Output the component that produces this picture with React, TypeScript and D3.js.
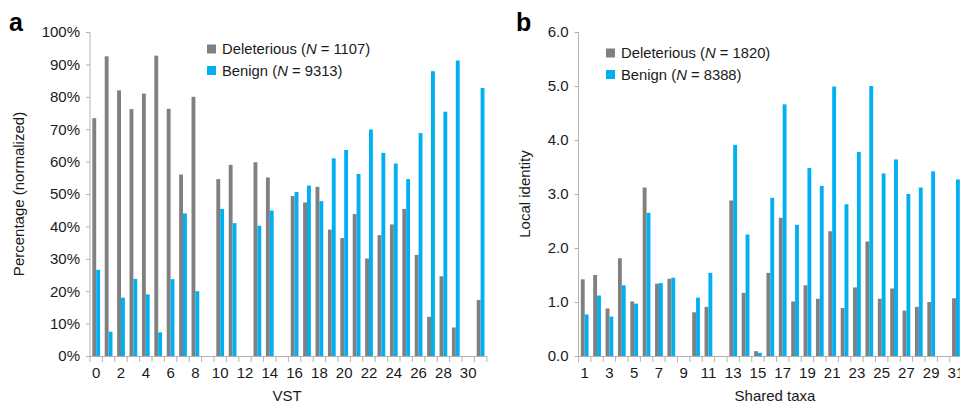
import React, { useEffect, useRef } from 'react';
import * as d3 from 'd3';

// panel a: VST
const vstCategories = ['0', '1', '2', '3', '4', '5', '6', '7', '8', '9', '10', '11', '12', '13', '14', '15',
  '16', '17', '18', '19', '20', '21', '22', '23', '24', '25', '26', '27', '28', '29', '30', '31'];
const vstDeleterious = [73.4, 92.5, 82, 76.2, 81, 92.7, 76.3, 56, 80, null, 54.6, 59, null, 59.8, 55.1, null,
  49.4, 47.4, 52.2, 39, 36.4, 43.8, 30.1, 37.3, 40.6, 45.4, 31.2, 12.1, 24.6, 8.8, null, 17.3];
const vstBenign = [26.6, 7.5, 18, 23.8, 19, 7.3, 23.7, 44, 20, null, 45.4, 41, null, 40.2, 44.9, null,
  50.6, 52.6, 47.8, 61, 63.6, 56.2, 69.9, 62.7, 59.4, 54.6, 68.8, 87.9, 75.4, 91.2, null, 82.7];
const vstTicks = ['0', '2', '4', '6', '8', '10', '12', '14', '16', '18', '20', '22', '24', '26', '28', '30'];
const pctTicks = [0, 10, 20, 30, 40, 50, 60, 70, 80, 90, 100];

// panel b: shared taxa
const taxaCategories = ['1', '2', '3', '4', '5', '6', '7', '8', '9', '10', '11', '12', '13', '14', '15', '16',
  '17', '18', '19', '20', '21', '22', '23', '24', '25', '26', '27', '28', '29', '30', '31'];
const taxaDeleterious = [1.42, 1.5, 0.88, 1.81, 1.01, 3.12, 1.34, 1.43, null, 0.81, 0.91, null, 2.88, 1.17, 0.09, 1.54,
  2.56, 1.01, 1.31, 1.06, 2.31, 0.89, 1.27, 2.12, 1.06, 1.25, 0.84, 0.91, 1.0, null, 1.07];
const taxaBenign = [0.77, 1.12, 0.73, 1.31, 0.97, 2.65, 1.35, 1.45, null, 1.08, 1.54, null, 3.91, 2.25, 0.06, 2.93,
  4.66, 2.43, 3.48, 3.15, 4.99, 2.81, 3.78, 5.0, 3.38, 3.64, 3.0, 3.12, 3.42, null, 3.27];
const taxaTicks = ['1', '3', '5', '7', '9', '11', '13', '15', '17', '19', '21', '23', '25', '27', '29', '31'];
const identityTicks = [0, 1, 2, 3, 4, 5, 6];

const GREY = '#808080';
const BLUE = '#00b0f0';
const AXIS = '#b3b3b3';
const TEXT = '#1a1a1a';
const FONT = '"Liberation Sans", Arial, sans-serif';

function drawPanel(svg, opts) {
  const { left, top, bottom, step, categories, del, ben, xTicks, yMax, yTicks, yFormat,
    letter, letterX, yTitle, yTitleX, xTitle, xTitleX, legendX, legendY, nDel, nBen } = opts;

  const right = left + step * categories.length;
  const x = d3.scaleBand().domain(categories).range([left, right]).padding(0);
  const inner = d3.scaleBand().domain(['del', 'ben']).range([0, x.bandwidth()]).paddingInner(0).paddingOuter(0.6);
  const y = d3.scaleLinear().domain([0, yMax]).range([bottom, top]);

  const g = svg.append('g');

  // bars
  const rows = categories.map((c, i) => ({ c, del: del[i], ben: ben[i] }));
  [['del', GREY], ['ben', BLUE]].forEach(([key, color]) => {
    g.append('g')
      .selectAll('rect')
      .data(rows.filter((r) => r[key] != null))
      .join('rect')
      .attr('x', (r) => x(r.c) + inner(key))
      .attr('width', inner.bandwidth())
      .attr('y', (r) => y(r[key]))
      .attr('height', (r) => bottom - y(r[key]))
      .attr('fill', color);
  });

  // y axis
  const yAxis = d3.axisLeft(y).tickValues(yTicks).tickSize(4).tickPadding(6).tickFormat(yFormat);
  const ya = g.append('g').attr('transform', `translate(${left},0)`).call(yAxis);
  ya.select('.domain').attr('stroke', AXIS).attr('d', `M0,${top}V${bottom}`);
  ya.selectAll('.tick line').attr('stroke', AXIS);
  ya.selectAll('.tick text').attr('fill', TEXT).style('font-size', '15px').style('font-family', FONT);

  // x axis: labels at band centres, ticks between bands
  const xAxis = d3.axisBottom(x).tickValues(xTicks).tickSize(0).tickPadding(11);
  const xa = g.append('g').attr('transform', `translate(0,${bottom})`).call(xAxis);
  xa.select('.domain').remove();
  xa.selectAll('.tick text').attr('fill', TEXT).style('font-size', '15px').style('font-family', FONT);
  g.append('line')
    .attr('x1', left).attr('x2', right).attr('y1', bottom + 0.5).attr('y2', bottom + 0.5)
    .attr('stroke', AXIS);
  g.append('g')
    .selectAll('line')
    .data([...categories.map((c) => x(c)), right])
    .join('line')
    .attr('x1', (d) => d).attr('x2', (d) => d)
    .attr('y1', bottom).attr('y2', bottom + 6)
    .attr('stroke', AXIS);

  // titles
  g.append('text')
    .attr('transform', `translate(${yTitleX},${(top + bottom) / 2}) rotate(-90)`)
    .attr('text-anchor', 'middle')
    .attr('fill', TEXT)
    .style('font-size', '15px').style('font-family', FONT)
    .text(yTitle);
  g.append('text')
    .attr('x', xTitleX).attr('y', bottom + 45)
    .attr('text-anchor', 'middle')
    .attr('fill', TEXT)
    .style('font-size', '15px').style('font-family', FONT)
    .text(xTitle);
  g.append('text')
    .attr('x', letterX).attr('y', 31)
    .attr('fill', '#000')
    .style('font-size', '25px').style('font-weight', 'bold').style('font-family', FONT)
    .text(letter);

  // legend
  const items = [['Deleterious', nDel, GREY], ['Benign', nBen, BLUE]];
  items.forEach(([name, n, color], i) => {
    const ly = legendY + i * 21.5;
    g.append('rect').attr('x', legendX).attr('y', ly - 4.5).attr('width', 9).attr('height', 9).attr('fill', color);
    const t = g.append('text')
      .attr('x', legendX + 15).attr('y', ly + 5)
      .attr('fill', TEXT)
      .style('font-size', '14.8px').style('font-family', FONT);
    t.append('tspan').text(`${name} (`);
    t.append('tspan').style('font-style', 'italic').text('N');
    t.append('tspan').text(` = ${n})`);
  });
}

const App = () => {
  const svgRef = useRef(null);

  useEffect(() => {
    const svg = d3.select(svgRef.current);
    svg.selectAll('*').remove();

    drawPanel(svg, {
      left: 90, top: 32, bottom: 356, step: 12.4,
      categories: vstCategories, del: vstDeleterious, ben: vstBenign, xTicks: vstTicks,
      yMax: 100, yTicks: pctTicks, yFormat: (d) => `${d}%`,
      letter: 'a', letterX: 9, yTitle: 'Percentage (normalized)', yTitleX: 24,
      xTitle: 'VST', xTitleX: 287, legendX: 207, legendY: 49, nDel: 1107, nBen: 9313,
    });

    drawPanel(svg, {
      left: 578.5, top: 32, bottom: 356, step: 12.375,
      categories: taxaCategories, del: taxaDeleterious, ben: taxaBenign, xTicks: taxaTicks,
      yMax: 6, yTicks: identityTicks, yFormat: d3.format('.1f'),
      letter: 'b', letterX: 516, yTitle: 'Local identity', yTitleX: 530,
      xTitle: 'Shared taxa', xTitleX: 775, legendX: 606, legendY: 53, nDel: 1820, nBen: 8388,
    });
  }, []);

  return (
    <svg ref={svgRef} width={960} height={404}
      style={{ position: 'absolute', left: 0, top: 0, background: '#fff' }} />
  );
};

export default App;
